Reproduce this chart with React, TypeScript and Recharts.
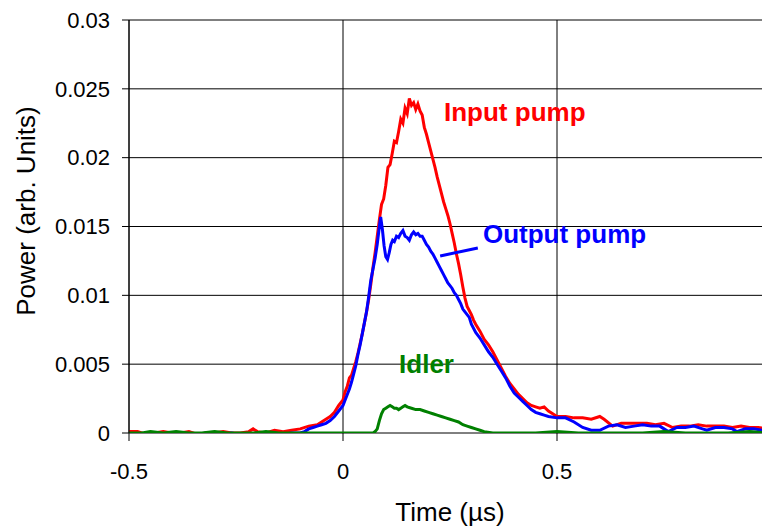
import React from 'react';
import { LineChart, Line, XAxis, YAxis, CartesianGrid, ReferenceDot, ReferenceLine } from 'recharts';

const xTicks = [-0.5, 0, 0.5, 1];
const yTicks = [0, 0.005, 0.01, 0.015, 0.02, 0.025, 0.03];

const inputTime = [
  -0.5, -0.48, -0.46, -0.44, -0.42, -0.4, -0.38, -0.36, -0.34, -0.32, -0.3, -0.28, -0.26, -0.24, -0.22, -0.21, -0.2,
  -0.18, -0.16, -0.14, -0.12, -0.1, -0.08, -0.06, -0.05, -0.04, -0.03, -0.02, -0.01, 0, 0.005, 0.01, 0.015, 0.02,
  0.025, 0.03, 0.035, 0.04, 0.045, 0.05, 0.055, 0.06, 0.065, 0.07, 0.075, 0.08, 0.085, 0.09, 0.095, 0.1, 0.105,
  0.11, 0.115, 0.12, 0.125, 0.13, 0.135, 0.14, 0.145, 0.15, 0.155, 0.16, 0.165, 0.17, 0.175, 0.18, 0.185, 0.19,
  0.195, 0.2, 0.205, 0.21, 0.215, 0.22, 0.225, 0.23, 0.235, 0.24, 0.245, 0.25, 0.255, 0.26, 0.265, 0.27, 0.275,
  0.28, 0.285, 0.29, 0.295, 0.3, 0.305, 0.31, 0.32, 0.33, 0.34, 0.35, 0.36, 0.37, 0.38, 0.39, 0.4, 0.41, 0.42,
  0.43, 0.44, 0.45, 0.46, 0.47, 0.48, 0.49, 0.5, 0.52, 0.54, 0.56, 0.58, 0.6, 0.61, 0.63, 0.65, 0.67, 0.69, 0.71,
  0.73, 0.75, 0.77, 0.79, 0.81, 0.83, 0.85, 0.87, 0.89, 0.91, 0.93, 0.95, 0.97, 0.99, 1.0,
];
const inputPower = [
  0.0001, 0.0001, -0.0001, 0, 0.0001, 0, 0, 0.0001, -0.0001, 0, 0, 0.0001, 0, 0, 0.0001, 0.0003, 0.0001,
  0, 0.0002, 0.0001, 0.0002, 0.0003, 0.0005, 0.0006, 0.0008, 0.001, 0.0012, 0.0015, 0.002, 0.0024, 0.003, 0.0034, 0.004, 0.0042,
  0.0047, 0.0052, 0.0058, 0.0065, 0.0072, 0.008, 0.0088, 0.0097, 0.0108, 0.012, 0.0131, 0.0143, 0.0155, 0.0166, 0.017, 0.018, 0.0193,
  0.0195, 0.0203, 0.0212, 0.0211, 0.0219, 0.0228, 0.0225, 0.0236, 0.0232, 0.0243, 0.0238, 0.024, 0.0235, 0.0239, 0.0234, 0.0231, 0.0222,
  0.0217, 0.0211, 0.0205, 0.0199, 0.0193, 0.0186, 0.018, 0.0174, 0.0168, 0.0163, 0.0158, 0.0152, 0.0145, 0.0138, 0.013, 0.0123, 0.0115,
  0.0106, 0.0098, 0.0092, 0.0089, 0.0086, 0.0082, 0.0079, 0.0074, 0.0068, 0.0064, 0.0059, 0.0053, 0.0047, 0.0041, 0.0036, 0.0032, 0.0028, 0.0025,
  0.0022, 0.002, 0.0019, 0.0018, 0.0019, 0.0016, 0.0014, 0.0012, 0.0012, 0.0011, 0.0011, 0.001, 0.0012, 0.001, 0.0005, 0.0007, 0.0007, 0.0007, 0.0007,
  0.0006, 0.0007, 0.0004, 0.0005, 0.0005, 0.0006, 0.0005, 0.0005, 0.0005, 0.0004, 0.0005, 0.0004, 0.0004, 0.0003, 0.0003,
];

const outputTime = [
  -0.5, -0.48, -0.46, -0.44, -0.42, -0.4, -0.38, -0.36, -0.34, -0.32, -0.3, -0.28, -0.26, -0.24, -0.22, -0.2,
  -0.18, -0.16, -0.14, -0.12, -0.1, -0.09, -0.08, -0.07, -0.06, -0.05, -0.04, -0.03, -0.02, -0.01, 0, 0.005, 0.01,
  0.015, 0.02, 0.025, 0.03, 0.035, 0.04, 0.045, 0.05, 0.055, 0.06, 0.065, 0.07, 0.075, 0.08, 0.085, 0.088, 0.092,
  0.096, 0.1, 0.104, 0.108, 0.112, 0.116, 0.12, 0.125, 0.13, 0.135, 0.14, 0.145, 0.15, 0.155, 0.16, 0.165, 0.17,
  0.175, 0.18, 0.185, 0.19, 0.195, 0.2, 0.205, 0.21, 0.215, 0.22, 0.225, 0.23, 0.235, 0.24, 0.245, 0.25, 0.255,
  0.26, 0.265, 0.27, 0.275, 0.28, 0.285, 0.29, 0.295, 0.3, 0.31, 0.32, 0.33, 0.34, 0.35, 0.36, 0.37, 0.38, 0.39,
  0.4, 0.41, 0.42, 0.43, 0.44, 0.45, 0.46, 0.47, 0.48, 0.5, 0.52, 0.54, 0.56, 0.58, 0.6, 0.62, 0.64, 0.66, 0.68,
  0.7, 0.72, 0.74, 0.76, 0.78, 0.8, 0.82, 0.84, 0.85, 0.87, 0.89, 0.91, 0.92, 0.94, 0.96, 0.98, 1.0,
];
const outputPower = [
  -0.0001, -0.0001, -0.0001, 0, -0.0001, -0.0001, 0, -0.0001, -0.0001, 0, -0.0001, -0.0001, 0, -0.0001, -0.0001, 0,
  -0.0001, 0, -0.0001, 0, 0, 0.0001, 0.0003, 0.0004, 0.0005, 0.0006, 0.0007, 0.0009, 0.0012, 0.0016, 0.002, 0.0024, 0.0028,
  0.0032, 0.0037, 0.0043, 0.0049, 0.0057, 0.0064, 0.0072, 0.008, 0.0088, 0.0099, 0.0111, 0.0119, 0.0127, 0.0137, 0.015, 0.0157, 0.0148,
  0.0136, 0.0128, 0.0126, 0.0131, 0.0137, 0.014, 0.0139, 0.0143, 0.0142, 0.0145, 0.0147, 0.0143, 0.0142, 0.014, 0.0144, 0.0146, 0.0144,
  0.0145, 0.0143, 0.0143, 0.014, 0.0137, 0.0135, 0.0132, 0.013, 0.0127, 0.0124, 0.0121, 0.0118, 0.0115, 0.0112, 0.0109, 0.0107, 0.0105,
  0.0102, 0.01, 0.0097, 0.0094, 0.009, 0.0088, 0.0086, 0.0084, 0.0079, 0.0073, 0.0069, 0.0064, 0.0059, 0.0055, 0.005, 0.0045, 0.004, 0.0034,
  0.0029, 0.0026, 0.0023, 0.002, 0.0017, 0.0015, 0.0014, 0.0013, 0.0012, 0.0011, 0.0011, 0.0008, 0.0004, 0.0002, 0.0002, 0.0005, 0.0006, 0.0004, 0.0005,
  0.0006, 0.0005, 0.0005, 0.0001, 0.0004, 0.0004, 0.0005, 0.0003, 0.0002, 0.0004, 0.0004, 0.0003, 0.0001, 0.0003, 0.0003, 0.0002, 0.0001,
];

const idlerTime = [
  -0.5, -0.47, -0.45, -0.42, -0.39, -0.36, -0.33, -0.3, -0.27, -0.24, -0.21, -0.18, -0.15, -0.12, -0.09, -0.06,
  -0.03, 0, 0.02, 0.04, 0.06, 0.07, 0.075, 0.08, 0.085, 0.09, 0.095, 0.1, 0.105, 0.11, 0.115, 0.12, 0.125, 0.13,
  0.135, 0.14, 0.145, 0.15, 0.16, 0.17, 0.18, 0.19, 0.2, 0.21, 0.22, 0.23, 0.24, 0.25, 0.26, 0.27, 0.28, 0.29,
  0.3, 0.31, 0.32, 0.33, 0.35, 0.4, 0.45, 0.5, 0.55, 0.6, 0.65, 0.7, 0.75, 0.8, 0.85, 0.9, 0.95, 1.0,
];
const idlerPower = [
  0, 0, 0.0001, 0, 0.0001, 0, 0, 0.0001, 0, 0, 0, 0.0001, 0, 0, 0, 0,
  0, 0, 0, 0, 0, 0, 0.0001, 0.0003, 0.0009, 0.0014, 0.0017, 0.0018, 0.0019, 0.002, 0.0019, 0.0018, 0.0018, 0.0017,
  0.0018, 0.0019, 0.002, 0.0019, 0.0018, 0.0017, 0.0017, 0.0016, 0.0015, 0.0014, 0.0013, 0.0012, 0.0011, 0.001, 0.0009, 0.0008, 0.0006, 0.0005,
  0.0004, 0.0003, 0.0002, 0.0001, 0, 0, 0, 0.0001, 0, 0, 0, 0, 0.0001, 0, 0, 0, 0.0001, 0,
];

const toPoints = (ts: number[], vs: number[]) => ts.map((t, i) => ({ t, v: vs[i] }));
const inputData = toPoints(inputTime, inputPower);
const outputData = toPoints(outputTime, outputPower);
const idlerData = toPoints(idlerTime, idlerPower);

const FONT = "'Liberation Sans', Arial, Helvetica, sans-serif";

const makeLabel = (text: string, color: string) => (props: any) => (
  <text x={props.cx} y={props.cy} fill={color} fontFamily={FONT} fontSize={26} fontWeight="bold" textAnchor="start">
    {text}
  </text>
);

export default function App() {
  return (
    <div style={{ width: 770, height: 519 }}>
      <LineChart width={770} height={519} margin={{ top: 12, right: 7, bottom: 0, left: 0 }}>
        <CartesianGrid stroke="#000" strokeWidth={1} horizontal vertical />
        <XAxis
          type="number"
          dataKey="t"
          domain={[-0.5, 1]}
          ticks={xTicks}
          interval={0}
          height={94}
          tickSize={8}
          tickMargin={22}
          stroke="#000"
          axisLine={false}
          tickLine={{ stroke: '#000' }}
          tick={{ fill: '#000', fontSize: 22, fontFamily: FONT }}
          allowDataOverflow
          label={{ value: 'Time (µs)', position: 'insideBottom', offset: 6, fill: '#000', fontSize: 26, fontFamily: FONT }}
        />
        <YAxis
          type="number"
          domain={[0, 0.03]}
          ticks={yTicks}
          interval={0}
          width={121}
          tickSize={7}
          tickMargin={12}
          stroke="#000"
          tick={{ fill: '#000', fontSize: 22, fontFamily: FONT }}
          allowDataOverflow
          label={{
            content: () => (
              <text transform="translate(27,203) rotate(-90)" textAnchor="middle" fill="#000" fontSize={26} fontFamily={FONT}>
                Power (arb. Units)
              </text>
            ),
          }}
        />
        <Line data={inputData} dataKey="v" type="linear" stroke="#FF0000" strokeWidth={3} dot={false} isAnimationActive={false} />
        <Line data={outputData} dataKey="v" type="linear" stroke="#0000FF" strokeWidth={3} dot={false} isAnimationActive={false} />
        <Line data={idlerData} dataKey="v" type="linear" stroke="#008000" strokeWidth={3} dot={false} isAnimationActive={false} />
        <ReferenceLine segment={[{ x: 0.227, y: 0.01286 }, { x: 0.315, y: 0.01344 }]} stroke="#0000FF" strokeWidth={3} />
        <ReferenceDot x={0.236} y={0.02266} r={0} shape={makeLabel('Input pump', '#FF0000')} />
        <ReferenceDot x={0.327} y={0.0138} r={0} shape={makeLabel('Output pump', '#0000FF')} />
        <ReferenceDot x={0.131} y={0.00436} r={0} shape={makeLabel('Idler', '#008000')} />
      </LineChart>
    </div>
  );
}
